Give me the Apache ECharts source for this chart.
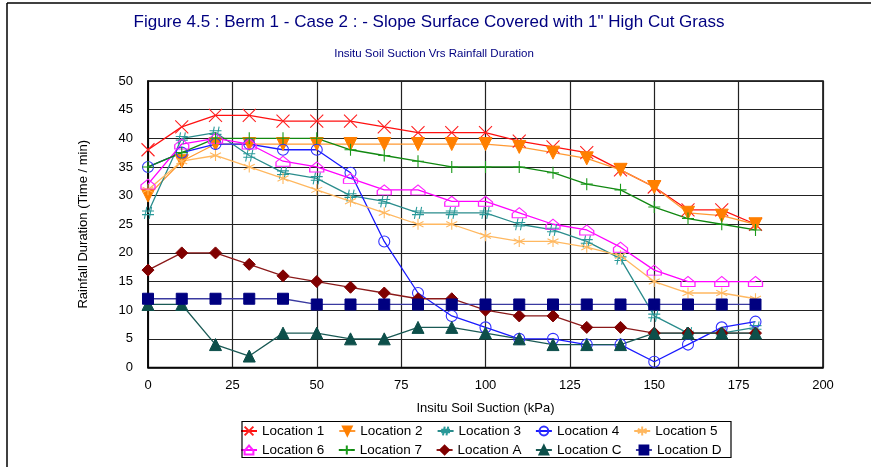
<!DOCTYPE html>
<html>
<head>
<meta charset="utf-8">
<script src="https://cdn.jsdelivr.net/npm/echarts@6.0.0/dist/echarts.min.js"></script>
<style>
  html, body { margin: 0; padding: 0; background: #fff; }
  #chart { width: 871px; height: 467px; }
</style>
</head>
<body>
<div id="chart"></div>
<script>
// soil suction (kPa) at each reading
const suction = [0, 10, 20, 30, 40, 50, 60, 70, 80, 90, 100, 110, 120, 130, 140, 150, 160, 170, 180]

const loc1 = [38, 42, 44, 44, 43, 43, 43, 42, 41, 41, 41, 39.5, 38.5, 37.5, 34.5, 31.5, 27.5, 27.5, 25]
const loc2 = [30, 36, 39, 39, 39, 39, 39, 39, 39, 39, 39, 38.5, 37.5, 36.5, 34.5, 31.5, 27, 26.5, 25]
const loc3 = [27, 40, 41, 37, 34, 33, 30, 29, 27, 27, 27, 25, 24, 22, 19, 9, 6, 6, 7]
const loc4 = [35, 37.5, 39, 39, 38, 38, 34, 22, 13, 9, 7, 5, 5, 4, 4, 1, 4, 7, 8]
const loc5 = [31, 36, 37, 35, 33, 31, 29, 27, 25, 25, 23, 22, 22, 21, 19.5, 15, 13, 13, 12]
const loc6 = [32, 39, 40, 39, 36, 35, 33, 31, 31, 29, 29, 27, 25, 24, 21, 17, 15, 15, 15]
const loc7 = [35, 37.5, 40, 40, 40, 40, 38, 37, 36, 35, 35, 35, 34, 32, 31, 28, 26, 25, 24]
const locA = [17, 20, 20, 18, 16, 15, 14, 13, 12, 12, 10, 9, 9, 7, 7, 6, 6, 6, 6]
const locC = [11, 11, 4, 2, 6, 6, 5, 5, 7, 7, 6, 5, 4, 4, 4, 6, 6, 6, 6]
const locD = [12, 12, 12, 12, 12, 11, 11, 11, 11, 11, 11, 11, 11, 11, 11, 11, 11, 11, 11]

const FONT = 'Liberation Sans, Arial, sans-serif'

const xMark = 'path://M0,0L10,10M10,0L0,10'
const hashMark = 'path://M4,0L2,10M8,0L6,10M0,3.5L10,3.5M0,6.5L10,6.5'
const starMark = 'path://M5,0L5,10M0,2.5L10,7.5M0,7.5L10,2.5'
const houseMark = 'path://M0,4L5,0L10,4L10,7L0,7Z'
const plusMark = 'path://M5,0L5,10M0,5L10,5'

function pair(arr) {
  return suction.map((s, i) => [s, arr[i]])
}

function lineSeries(name, arr, color, lineColor, symbol, size, filled, extra) {
  return Object.assign({
    name: name,
    type: 'line',
    data: pair(arr),
    symbol: symbol,
    symbolSize: size,
    showAllSymbol: true,
    lineStyle: { color: lineColor, width: 1.3 },
    itemStyle: filled
      ? { color: color, borderColor: color, borderWidth: 1 }
      : { color: 'rgba(0,0,0,0)', borderColor: color, borderWidth: 1.1 },
    emphasis: { disabled: true },
    animation: false
  }, extra || {})
}

const series = [
  lineSeries('Location 1', loc1, '#ff2020', '#ff1010', xMark, 13, false),
  lineSeries('Location 2', loc2, '#ff7f00', '#ff9933', 'triangle', 13, true, { symbolRotate: 180 }),
  lineSeries('Location 3', loc3, '#2a9a9a', '#2a8c8c', hashMark, 12, false),
  lineSeries('Location 4', loc4, '#3030ff', '#1a1aff', 'circle', 11, false),
  lineSeries('Location 5', loc5, '#ffb860', '#ffb860', starMark, 11, false),
  lineSeries('Location 6', loc6, '#ff20ff', '#ff00ff', houseMark, [14, 10], false),
  lineSeries('Location 7', loc7, '#1a9a1a', '#118811', plusMark, 12, false),
  lineSeries('Location A', locA, '#800000', '#8b1a1a', 'diamond', 12, true),
  lineSeries('Location C', locC, '#0d4f4a', '#1a5a55', 'triangle', 12, true),
  lineSeries('Location D', locD, '#000080', '#3a3aa0', 'rect', 11, true)
]

const names = series.map(s => s.name)

const legendText = { fontFamily: FONT, fontSize: 13.5, color: '#000' }

const option = {
  backgroundColor: '#fff',
  animation: false,
  title: [
    {
      text: 'Figure 4.5 : Berm 1 - Case 2 : - Slope Surface Covered with 1" High Cut Grass',
      left: 424, top: 9, textAlign: 'center',
      textStyle: { fontFamily: FONT, fontSize: 17, fontWeight: 'normal', color: '#000080' }
    },
    {
      text: 'Insitu Soil Suction Vrs Rainfall Duration',
      left: 429, top: 43, textAlign: 'center',
      textStyle: { fontFamily: FONT, fontSize: 11.5, fontWeight: 'normal', color: '#000080' }
    }
  ],
  legend: [
    {
      data: names.slice(0, 5), left: 240, top: 424, itemGap: 14,
      itemWidth: 16, itemHeight: 11, padding: 0,
      textStyle: legendText, selectedMode: false
    },
    {
      data: names.slice(5), left: 240, top: 443, itemGap: 13.5,
      itemWidth: 16, itemHeight: 11, padding: 0,
      textStyle: legendText, selectedMode: false
    }
  ],
  graphic: [
    { type: 'line', shape: { x1: 7, y1: 3, x2: 871, y2: 3 }, style: { stroke: '#000', lineWidth: 1.5 } },
    { type: 'line', shape: { x1: 7, y1: 3, x2: 7, y2: 467 }, style: { stroke: '#000', lineWidth: 1.5 } },
    { type: 'rect', shape: { x: 242, y: 421.5, width: 489, height: 36 }, style: { fill: null, stroke: '#000', lineWidth: 1.2 }, z: 10 }
  ],
  grid: { left: 148, right: 48, top: 81, bottom: 99.5, show: true, borderColor: '#000', borderWidth: 1.5 },
  xAxis: {
    type: 'value', min: 0, max: 200, interval: 25,
    name: 'Insitu Soil Suction (kPa)', nameLocation: 'middle', nameGap: 34,
    nameTextStyle: { fontFamily: FONT, fontSize: 13, color: '#000' },
    axisLine: { lineStyle: { color: '#000', width: 1.5 } },
    axisTick: { show: false },
    axisLabel: { fontFamily: FONT, fontSize: 13, color: '#000', margin: 11 },
    splitLine: { show: true, lineStyle: { color: '#222', width: 1.2 } }
  },
  yAxis: {
    type: 'value', min: 0, max: 50, interval: 5,
    name: 'Rainfall Duration (Time / min)', nameLocation: 'middle', nameGap: 58,
    nameTextStyle: { fontFamily: FONT, fontSize: 13, color: '#000' },
    axisLine: { show: true, lineStyle: { color: '#000', width: 1.5 } },
    axisTick: { show: false },
    axisLabel: { fontFamily: FONT, fontSize: 13, color: '#000', margin: 15 },
    splitLine: { show: true, lineStyle: { color: '#222', width: 1.2 } }
  },
  series: series
}

const chart = echarts.init(document.getElementById('chart'), null, { renderer: 'canvas' })
chart.setOption(option)
</script>
</body>
</html>
